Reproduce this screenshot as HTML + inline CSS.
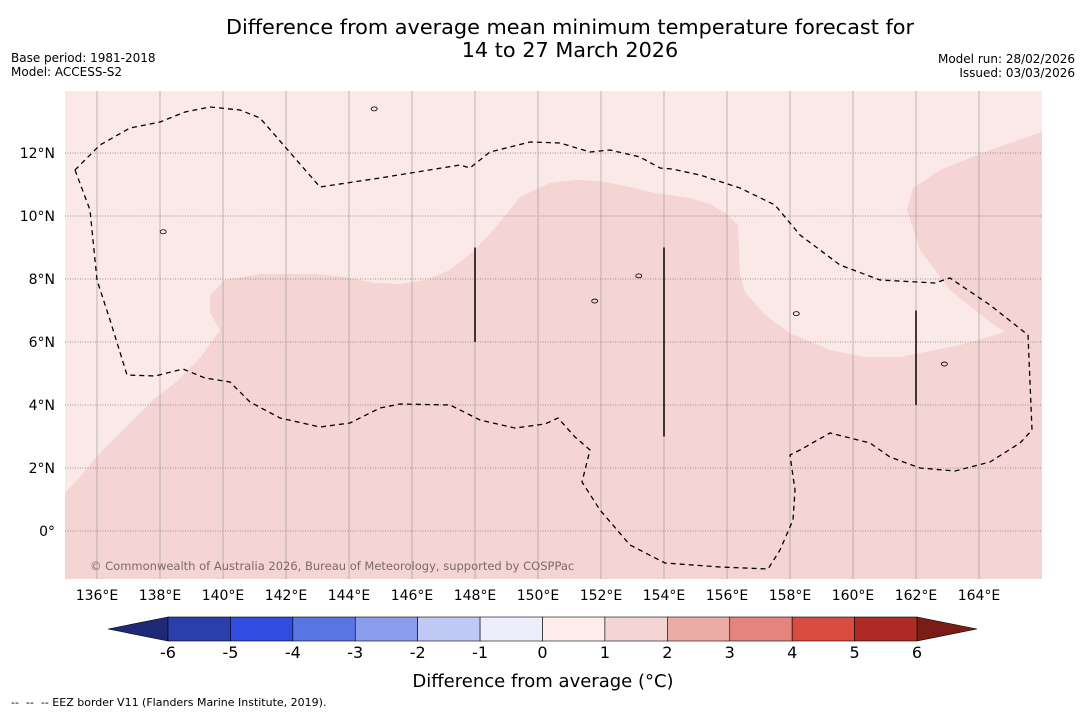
<!DOCTYPE html>
<html><head><meta charset="utf-8"><style>
body{margin:0;background:#fff;font-family:"Liberation Sans","DejaVu Sans",sans-serif}
svg text{font-family:"DejaVu Sans","Liberation Sans",sans-serif}
</style></head><body>
<svg id="c" width="1085" height="713" viewBox="0 0 1085 713" xmlns="http://www.w3.org/2000/svg">
<rect width="1085" height="713" fill="#fff"/>
<text x="570" y="34" font-size="20.8" text-anchor="middle">Difference from average mean minimum temperature forecast for</text>
<text x="570" y="57" font-size="20.8" text-anchor="middle">14 to 27 March 2026</text>
<text x="11" y="62" font-size="12">Base period: 1981-2018</text>
<text x="11" y="76" font-size="12">Model: ACCESS-S2</text>
<text x="1075" y="63" font-size="12" text-anchor="end">Model run: 28/02/2026</text>
<text x="1075" y="77" font-size="12" text-anchor="end">Issued: 03/03/2026</text>
<g id="map"></g>
<g id="cb"></g>
<text x="543" y="687" font-size="18" text-anchor="middle">Difference from average (°C)</text>
<text x="11" y="706" font-size="11" xml:space="preserve">--  --  -- EEZ border V11 (Flanders Marine Institute, 2019).</text>
</svg>
<script>
const lonTicks=[136,138,140,142,144,146,148,150,152,154,156,158,160,162,164];
const latTicks=[0,2,4,6,8,10,12];
const cbLevels=[-6,-5,-4,-3,-2,-1,0,1,2,3,4,5,6];
const cbColors=["#2a3eac","#2f4ee0","#5a74e4","#8a9ded","#c0c8f4","#eceefb","#fdeceb","#f5d5d3","#ecaca6","#e5847c","#d94a40","#ad2b24"];
const anomalyColors=["#fbe9e7","#f5d5d3"];
const NS="http://www.w3.org/2000/svg";
const X0=65,X1=1042,Y0=91,Y1=579;
// projection: 31.5 px per degree, 136E at x=97, 0N at y=531
const px=l=>97+(l-136)*31.5;
const py=l=>531-l*31.5;
const inv=p=>[136+(p[0]-97)/31.5,(531-p[1])/31.5];
const darkPix=[[65,492],[75,483],[98,455],[125,428],[155,398],[175,383],[200,358],[220,330],[210,313],[210,295],[225,280],[260,274],[315,274],[345,277],[375,283],[400,284],[425,280],[450,270],[475,250],[495,228],[520,197],[550,183],[575,180],[600,181],[630,187],[655,193],[690,198],[710,204],[725,213],[738,225],[740,275],[745,292],[765,315],[790,333],[830,350],[865,357],[900,357],[960,345],[1005,332],[990,322],[950,290],[920,250],[907,210],[913,188],[940,170],[990,150],[1042,132],[1042,579],[65,579]];
const eezPix=[[75,170],[90,210],[97,280],[110,320],[127,375],[155,376],[183,369],[205,378],[230,382],[250,402],[280,418],[320,427],[350,423],[380,408],[400,404],[450,405],[480,420],[515,428],[545,424],[558,418],[575,437],[590,450],[582,482],[600,510],[630,545],[665,563],[720,567],[768,569],[780,550],[793,520],[795,490],[790,455],[800,450],[830,433],[870,443],[890,457],[920,468],[955,471],[990,462],[1020,443],[1032,430],[1028,335],[990,305],[950,278],[935,283],[880,280],[840,265],[800,235],[775,205],[740,188],[700,175],[672,169],[660,168],[640,157],[610,150],[590,152],[560,143],[530,142],[490,152],[470,168],[460,165],[380,178],[320,187],[260,118],[240,110],[210,107],[185,112],[160,122],[130,128],[100,145],[80,165],[75,170]];
const darkRegion=darkPix.map(inv);
const eez=eezPix.map(inv);
function mk(t,a,p){const e=document.createElementNS(NS,t);for(const k in a)e.setAttribute(k,a[k]);(p||document.getElementById('map')).appendChild(e);return e;}
let bg=mk('rect',{x:X0,y:Y0,width:X1-X0,height:Y1-Y0,fill:anomalyColors[0]});


let dr=mk('polygon',{points:darkRegion.map(p=>px(p[0])+','+py(p[1])).join(' '),fill:anomalyColors[1]});


lonTicks.forEach(l=>{let g=mk('line',{x1:px(l),x2:px(l),y1:Y0,y2:Y1,stroke:'#999','stroke-width':0.8,opacity:0.8});


let t=mk('text',{x:px(l),y:600,'font-size':14,'text-anchor':'middle'});t.textContent=l+'°E';

});
latTicks.forEach(l=>{let g=mk('line',{x1:X0,x2:X1,y1:py(l),y2:py(l),stroke:'#777','stroke-width':0.8,'stroke-dasharray':'1,1.5'});


let t=mk('text',{x:55,y:py(l)+5,'font-size':14,'text-anchor':'end'});t.textContent=l===0?'0°':l+'°N';

});
let ez=mk('polyline',{points:eez.map(p=>px(p[0])+','+py(p[1])).join(' '),fill:'none',stroke:'#000','stroke-width':1.3,'stroke-dasharray':'5,4'});


const segs=[[148,9,6],[154,9,3],[162,7,4]];
segs.forEach(s=>{let l=mk('line',{x1:px(s[0]),x2:px(s[0]),y1:py(s[1]),y2:py(s[2]),stroke:'#000','stroke-width':1.5});

});
const isl=[[144.8,13.4],[138.1,9.5],[151.8,7.3],[153.2,8.1],[158.2,6.9],[162.9,5.3]];
isl.forEach(p=>{let c=mk('ellipse',{cx:px(p[0]),cy:py(p[1]),rx:3,ry:2,fill:'none',stroke:'#000','stroke-width':0.8});

});
let wm=mk('text',{x:90,y:570,'font-size':11.5,fill:'#7a6a6a'});wm.textContent='© Commonwealth of Australia 2026, Bureau of Meteorology, supported by COSPPac';


const cb=document.getElementById('cb');
const CX0=168,CX1=917,CY=617,CH=24;
const bw=(CX1-CX0)/cbColors.length;
let la=mk('polygon',{points:`${CX0},${CY} 108,${CY+CH/2} ${CX0},${CY+CH}`,fill:'#1e2a78',stroke:'#000','stroke-width':0.6},cb);


let ra=mk('polygon',{points:`${CX1},${CY} 977,${CY+CH/2} ${CX1},${CY+CH}`,fill:'#7a1d16',stroke:'#000','stroke-width':0.6},cb);


cbColors.forEach((c,i)=>{let r=mk('rect',{x:CX0+i*bw,y:CY,width:bw,height:CH,fill:c,stroke:'#000','stroke-width':0.6},cb);

});
cbLevels.forEach((v,i)=>{let t=mk('text',{x:CX0+i*bw,y:658,'font-size':16,'text-anchor':'middle'},cb);t.textContent=v;

});
</script>
</body></html>
